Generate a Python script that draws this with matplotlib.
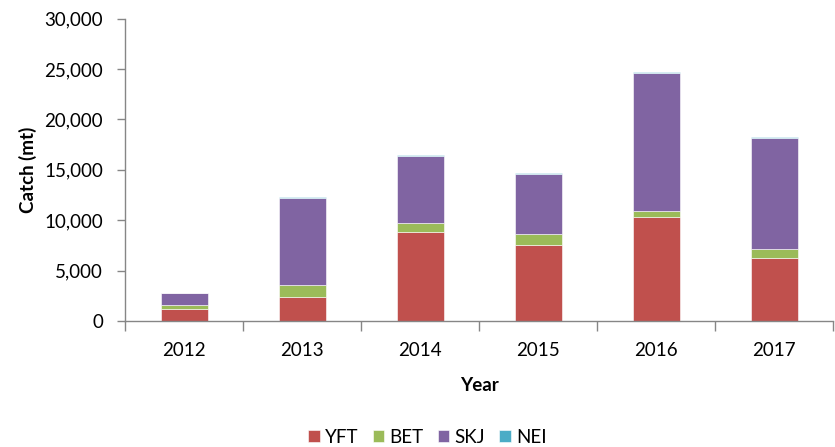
import matplotlib.pyplot as plt
import numpy as np
from matplotlib.ticker import FuncFormatter, FixedLocator

plt.rcParams['font.family'] = ['Lato', 'DejaVu Sans']

years = ['2012', '2013', '2014', '2015', '2016', '2017']
yft = [1190, 2380, 8830, 7510, 10320, 6290]
bet = [400, 1190, 860, 1130, 600, 890]
skj = [1190, 8670, 6720, 5950, 13730, 10980]
nei = [20, 70, 70, 100, 100, 100]

series = [('YFT', yft, '#C0504D'), ('BET', bet, '#9BBB59'),
          ('SKJ', skj, '#8064A2'), ('NEI', nei, '#4BACC6')]

fig = plt.figure(figsize=(8.35, 4.47), dpi=100)
ax = fig.add_axes([0.150, 0.282, 0.848, 0.676])

x = np.arange(len(years))
bottom = np.zeros(len(years))
for name, vals, col in series:
    ax.bar(x, vals, width=0.4, bottom=bottom, color=col, label=name,
           edgecolor='white', linewidth=0.4)
    bottom += np.array(vals)

axis_col = '#868686'
ax.set_ylim(0, 30000)
ax.set_xlim(-0.5, len(years) - 0.5)
ax.set_yticks(range(0, 30001, 5000))
ax.yaxis.set_major_formatter(FuncFormatter(lambda v, p: f'{int(v):,}'))
ax.set_xticks(x)
ax.set_xticklabels(years)
ax.xaxis.set_minor_locator(FixedLocator(np.arange(-0.5, len(years), 1.0)))
ax.tick_params(axis='x', which='major', length=0, labelsize=13.5, pad=15)
ax.tick_params(axis='x', which='minor', length=7, color=axis_col, width=1)
ax.tick_params(axis='y', length=6, color=axis_col, width=1, labelsize=13.5, pad=10)

for s in ['top', 'right']:
    ax.spines[s].set_visible(False)
for s in ['left', 'bottom']:
    ax.spines[s].set_color(axis_col)
    ax.spines[s].set_linewidth(1)

ax.set_xlabel('Year', fontsize=13.5, fontweight='bold', labelpad=13)
ax.set_ylabel('Catch (mt)', fontsize=13.5, fontweight='bold', labelpad=5)

ax.legend(loc='center', bbox_to_anchor=(0.427, -0.385), ncol=4,
          frameon=False, fontsize=13.5, handlelength=0.6, handleheight=0.6,
          handletextpad=0.3, columnspacing=0.75)

fig.savefig('out.png', dpi=100)
